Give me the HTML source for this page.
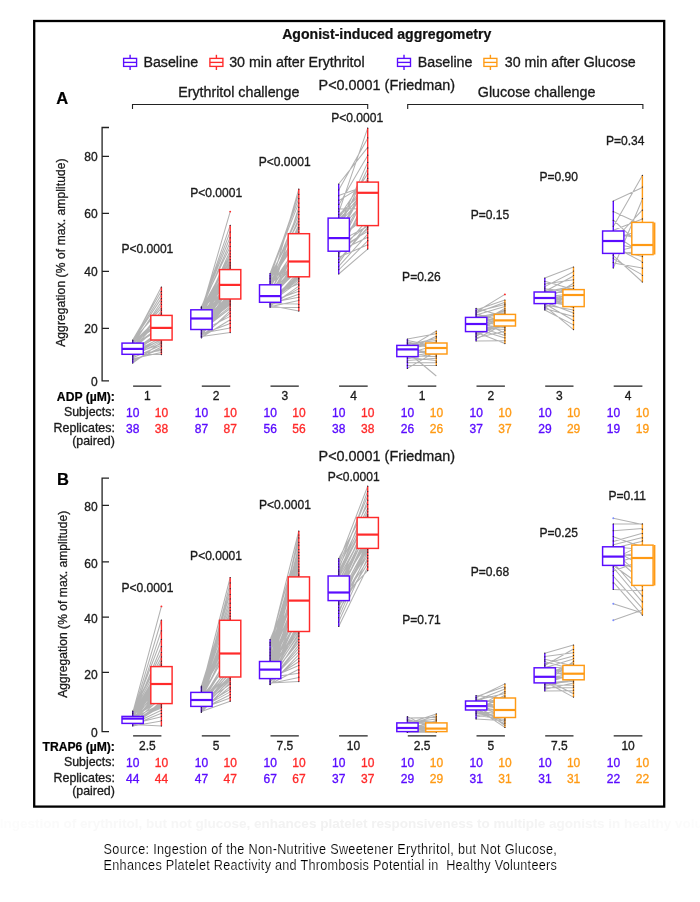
<!DOCTYPE html>
<html lang="en"><head><meta charset="utf-8"><title>Agonist-induced aggregometry</title>
<style>html,body{margin:0;padding:0;background:#fff}svg{display:block}text{white-space:pre}</style></head>
<body>
<svg width="700" height="902" viewBox="0 0 700 902" font-family="Liberation Sans, Arial, Helvetica, sans-serif">
<rect width="700" height="902" fill="#fff"/>
<rect x="34.2" y="21" width="630" height="785.6" fill="none" stroke="#000" stroke-width="2.3"/>
<text x="282.2" y="38.8" font-size="14.1" text-anchor="start" font-weight="bold" fill="#111" stroke="#111" stroke-width="0.22" >Agonist-induced aggregometry</text>
<path d="M130.1 54.8V70" stroke="#5a0cff" stroke-width="1.4"/>
<rect x="123.6" y="58.4" width="13" height="8" fill="#fff" stroke="#5a0cff" stroke-width="1.35"/>
<path d="M123.6 62.4H136.6" stroke="#5a0cff" stroke-width="1.35"/>
<text x="143.4" y="67.0" font-size="14.25" text-anchor="start" font-weight="normal" fill="#1a1a1a" stroke="#1a1a1a" stroke-width="0.32" >Baseline</text>
<path d="M216.4 54.8V70" stroke="#ff2a2a" stroke-width="1.4"/>
<rect x="209.9" y="58.4" width="13" height="8" fill="#fff" stroke="#ff2a2a" stroke-width="1.35"/>
<path d="M209.9 62.4H222.9" stroke="#ff2a2a" stroke-width="1.35"/>
<text x="229.2" y="67.0" font-size="14.25" text-anchor="start" font-weight="normal" fill="#1a1a1a" stroke="#1a1a1a" stroke-width="0.32" >30 min after Erythritol</text>
<path d="M404.0 54.8V70" stroke="#5a0cff" stroke-width="1.4"/>
<rect x="397.5" y="58.4" width="13" height="8" fill="#fff" stroke="#5a0cff" stroke-width="1.35"/>
<path d="M397.5 62.4H410.5" stroke="#5a0cff" stroke-width="1.35"/>
<text x="417.8" y="67.0" font-size="14.25" text-anchor="start" font-weight="normal" fill="#1a1a1a" stroke="#1a1a1a" stroke-width="0.32" >Baseline</text>
<path d="M490.4 54.8V70" stroke="#ff9a14" stroke-width="1.4"/>
<rect x="483.9" y="58.4" width="13" height="8" fill="#fff" stroke="#ff9a14" stroke-width="1.35"/>
<path d="M483.9 62.4H496.9" stroke="#ff9a14" stroke-width="1.35"/>
<text x="504.8" y="67.0" font-size="14.2" text-anchor="start" font-weight="normal" fill="#1a1a1a" stroke="#1a1a1a" stroke-width="0.32" >30 min after Glucose</text>
<text x="178.2" y="97.0" font-size="14.25" text-anchor="start" font-weight="normal" fill="#1a1a1a" stroke="#1a1a1a" stroke-width="0.32" >Erythritol challenge</text>
<text x="477.8" y="97.0" font-size="14.3" text-anchor="start" font-weight="normal" fill="#1a1a1a" stroke="#1a1a1a" stroke-width="0.32" >Glucose challenge</text>
<text x="318.6" y="90.2" font-size="14.4" text-anchor="start" font-weight="normal" fill="#1a1a1a" stroke="#1a1a1a" stroke-width="0.32" >P&lt;0.0001 (Friedman)</text>
<text x="318.6" y="460.7" font-size="14.4" text-anchor="start" font-weight="normal" fill="#1a1a1a" stroke="#1a1a1a" stroke-width="0.32" >P&lt;0.0001 (Friedman)</text>
<path d="M132.5 109V104.5H367.7V109M407.7 109V104.5H642.9V109" fill="none" stroke="#222" stroke-width="1.1"/>
<text x="56.3" y="104.0" font-size="16.5" text-anchor="start" font-weight="bold" fill="#000" stroke="#000" stroke-width="0.22" >A</text>
<text x="57.0" y="485.3" font-size="16.5" text-anchor="start" font-weight="bold" fill="#000" stroke="#000" stroke-width="0.22" >B</text>
<path d="M109 127.5H102.1V380.8H109M102.1 328.3H109M102.1 271.4H109M102.1 213.4H109M102.1 156.3H109" fill="none" stroke="#222" stroke-width="1.3"/>
<text x="97.6" y="386.4" font-size="12" text-anchor="end" font-weight="normal" fill="#1a1a1a" stroke="#1a1a1a" stroke-width="0.32" >0</text>
<text x="97.6" y="332.6" font-size="12" text-anchor="end" font-weight="normal" fill="#1a1a1a" stroke="#1a1a1a" stroke-width="0.32" >20</text>
<text x="97.6" y="275.7" font-size="12" text-anchor="end" font-weight="normal" fill="#1a1a1a" stroke="#1a1a1a" stroke-width="0.32" >40</text>
<text x="97.6" y="217.7" font-size="12" text-anchor="end" font-weight="normal" fill="#1a1a1a" stroke="#1a1a1a" stroke-width="0.32" >60</text>
<text x="97.6" y="160.6" font-size="12" text-anchor="end" font-weight="normal" fill="#1a1a1a" stroke="#1a1a1a" stroke-width="0.32" >80</text>
<path d="M109 478.1H102.1V731.6H109M102.1 672.4H109M102.1 617.1H109M102.1 561.9H109M102.1 505.3H109" fill="none" stroke="#222" stroke-width="1.3"/>
<text x="97.6" y="737.1" font-size="12" text-anchor="end" font-weight="normal" fill="#1a1a1a" stroke="#1a1a1a" stroke-width="0.32" >0</text>
<text x="97.6" y="679.1" font-size="12" text-anchor="end" font-weight="normal" fill="#1a1a1a" stroke="#1a1a1a" stroke-width="0.32" >20</text>
<text x="97.6" y="622.9" font-size="12" text-anchor="end" font-weight="normal" fill="#1a1a1a" stroke="#1a1a1a" stroke-width="0.32" >40</text>
<text x="97.6" y="567.7" font-size="12" text-anchor="end" font-weight="normal" fill="#1a1a1a" stroke="#1a1a1a" stroke-width="0.32" >60</text>
<text x="97.6" y="511.1" font-size="12" text-anchor="end" font-weight="normal" fill="#1a1a1a" stroke="#1a1a1a" stroke-width="0.32" >80</text>
<text transform="translate(64.6 346.8) rotate(-90)" font-size="12" fill="#1a1a1a" stroke="#1a1a1a" stroke-width="0.3" textLength="188.4" lengthAdjust="spacing">Aggregation (% of max. amplitude)</text>
<text transform="translate(67.2 697.8) rotate(-90)" font-size="12" fill="#1a1a1a" stroke="#1a1a1a" stroke-width="0.3" textLength="187" lengthAdjust="spacing">Aggregation (% of max. amplitude)</text>
<path d="M407.4 352L436.3 376" stroke="#b2b2b2" stroke-width="1.05"/>
<g stroke="#b2b2b2" stroke-width="1.05" fill="none" stroke-linecap="round"><path d="M132.7 340.0L161.4 291.0M132.7 340.5L161.4 308.1M132.7 341.1L161.4 294.8M132.7 341.5L161.4 298.4M132.7 341.9L161.4 287.1M132.7 342.3L161.4 305.1M132.7 342.6L161.4 321.8M132.7 342.8L161.4 315.1M132.7 343.0L161.4 323.2M132.7 343.1L161.4 316.4M132.7 343.6L161.4 320.5M132.7 344.2L161.4 319.1M132.7 344.8L161.4 301.8M132.7 345.5L161.4 328.6M132.7 346.1L161.4 325.9M132.7 346.7L161.4 327.2M132.7 347.3L161.4 310.9M132.7 348.0L161.4 313.3M132.7 348.6L161.4 317.8M132.7 349.2L161.4 324.5M132.7 349.8L161.4 333.8M132.7 350.4L161.4 331.2M132.7 350.9L161.4 335.1M132.7 351.5L161.4 329.9M132.7 352.1L161.4 337.7M132.7 352.7L161.4 340.1M132.7 353.3L161.4 332.5M132.7 353.9L161.4 354.6M132.7 354.3L161.4 343.7M132.7 354.6L161.4 350.6M132.7 355.1L161.4 336.4M132.7 355.8L161.4 339.0M132.7 356.6L161.4 341.1M132.7 357.7L161.4 345.3M132.7 358.8L161.4 352.6M132.7 360.1L161.4 348.8M132.7 361.5L161.4 347.0M132.7 363.1L161.4 342.3"/></g>
<path d="M132.7 340.0V363.1" stroke="#5a0cff" stroke-width="1.4"/>
<path d="M161.4 287.1V354.6" stroke="#ff2a2a" stroke-width="1.4"/>
<g fill="#2a2030"><circle cx="132.7" cy="340.0" r="0.62"/><circle cx="161.4" cy="291.4" r="0.62"/><circle cx="132.7" cy="340.8" r="0.62"/><circle cx="161.4" cy="308.8" r="0.62"/><circle cx="161.4" cy="294.3" r="0.62"/><circle cx="132.7" cy="342.2" r="0.62"/><circle cx="161.4" cy="298.7" r="0.62"/><circle cx="161.4" cy="287.1" r="0.62"/><circle cx="161.4" cy="304.5" r="0.62"/><circle cx="161.4" cy="314.6" r="0.62"/><circle cx="132.7" cy="343.6" r="0.62"/><circle cx="161.4" cy="301.6" r="0.62"/><circle cx="161.4" cy="310.3" r="0.62"/><circle cx="161.4" cy="313.2" r="0.62"/><circle cx="161.4" cy="340.8" r="0.62"/><circle cx="132.7" cy="353.8" r="0.62"/><circle cx="161.4" cy="354.6" r="0.62"/><circle cx="161.4" cy="343.6" r="0.62"/><circle cx="132.7" cy="355.2" r="0.62"/><circle cx="161.4" cy="350.9" r="0.62"/><circle cx="132.7" cy="356.7" r="0.62"/><circle cx="132.7" cy="358.1" r="0.62"/><circle cx="161.4" cy="345.1" r="0.62"/><circle cx="161.4" cy="352.3" r="0.62"/><circle cx="132.7" cy="359.6" r="0.62"/><circle cx="161.4" cy="349.4" r="0.62"/><circle cx="132.7" cy="361.1" r="0.62"/><circle cx="161.4" cy="346.6" r="0.62"/><circle cx="132.7" cy="363.1" r="0.62"/><circle cx="161.4" cy="342.2" r="0.62"/></g>
<rect x="122.0" y="343.1" width="21.3" height="11.2" fill="#fff" stroke="#5a0cff" stroke-width="1.45"/>
<path d="M122.0 348.9H143.3" stroke="#5a0cff" stroke-width="2.2"/>
<rect x="150.8" y="315.4" width="21.3" height="24.6" fill="#fff" stroke="#ff2a2a" stroke-width="1.45"/>
<path d="M150.8 327.9H172.1" stroke="#ff2a2a" stroke-width="2.2"/>
<g stroke="#b2b2b2" stroke-width="1.05" fill="none" stroke-linecap="round"><path d="M201.4 306.8L230.2 246.7M201.4 307.0L230.2 270.7M201.4 307.3L230.2 237.2M201.4 307.5L230.2 267.3M201.4 307.7L230.2 269.0M201.4 307.9L230.2 231.6M201.4 308.1L230.2 266.4M201.4 308.3L230.2 277.1M201.4 308.4L230.2 225.3M201.4 308.6L230.2 261.8M201.4 308.8L230.2 268.6M201.4 308.9L230.2 257.0M201.4 309.1L230.2 270.0M201.4 309.2L230.2 269.5M201.4 309.3L230.2 242.2M201.4 309.4L230.2 277.8M201.4 309.5L230.2 275.6M201.4 309.6L230.2 279.2M201.4 309.7L230.2 281.3M201.4 309.7L230.2 274.2M201.4 309.8L230.2 272.8M201.4 309.8L230.2 259.6M201.4 310.0L230.2 278.5M201.4 310.4L230.2 269.6M201.4 310.8L230.2 269.6M201.4 311.2L230.2 265.1M201.4 311.6L230.2 269.3M201.4 312.0L230.2 269.6M201.4 312.4L230.2 285.6M201.4 312.8L230.2 254.1M201.4 313.2L230.2 268.1M201.4 313.6L230.2 279.9M201.4 314.0L230.2 289.5M201.4 314.5L230.2 282.8M201.4 314.9L230.2 263.6M201.4 315.3L230.2 250.6M201.4 315.7L230.2 282.1M201.4 316.1L230.2 274.9M201.4 316.5L230.2 271.4M201.4 316.9L230.2 288.8M201.4 317.3L230.2 292.8M201.4 317.7L230.2 284.2M201.4 318.1L230.2 284.9M201.4 318.5L230.2 286.2M201.4 319.0L230.2 299.0M201.4 319.5L230.2 290.1M201.4 320.0L230.2 288.2M201.4 320.5L230.2 290.8M201.4 321.1L230.2 273.5M201.4 321.6L230.2 299.1M201.4 322.1L230.2 296.7M201.4 322.6L230.2 294.1M201.4 323.1L230.2 272.1M201.4 323.6L230.2 283.5M201.4 324.1L230.2 299.0M201.4 324.6L230.2 276.4M201.4 325.2L230.2 287.5M201.4 325.7L230.2 300.2M201.4 326.2L230.2 280.6M201.4 326.7L230.2 304.9M201.4 327.2L230.2 299.0M201.4 327.7L230.2 293.4M201.4 328.2L230.2 298.7M201.4 328.7L230.2 301.5M201.4 329.2L230.2 297.4M201.4 329.5L230.2 303.5M201.4 329.6L230.2 291.5M201.4 329.7L230.2 294.7M201.4 329.9L230.2 306.6M201.4 330.1L230.2 299.2M201.4 330.3L230.2 292.1M201.4 330.6L230.2 308.5M201.4 330.9L230.2 316.4M201.4 331.2L230.2 298.0M201.4 331.6L230.2 286.9M201.4 332.0L230.2 300.7M201.4 332.4L230.2 302.4M201.4 332.8L230.2 299.7M201.4 333.3L230.2 327.9M201.4 333.7L230.2 296.0M201.4 334.3L230.2 323.6M201.4 334.8L230.2 295.4M201.4 335.3L230.2 299.4M201.4 335.9L230.2 313.4M201.4 336.5L230.2 332.6M201.4 337.2L230.2 319.8M201.4 337.8L230.2 310.8M201.4 311.0L230.2 211.6"/></g>
<path d="M201.4 306.8V337.8" stroke="#5a0cff" stroke-width="1.4"/>
<path d="M230.2 225.3V332.6" stroke="#ff2a2a" stroke-width="1.4"/>
<g fill="#2a2030"><circle cx="201.4" cy="306.8" r="0.62"/><circle cx="230.2" cy="246.5" r="0.62"/><circle cx="201.4" cy="307.4" r="0.62"/><circle cx="230.2" cy="237.8" r="0.62"/><circle cx="230.2" cy="266.8" r="0.62"/><circle cx="230.2" cy="269.7" r="0.62"/><circle cx="230.2" cy="232.0" r="0.62"/><circle cx="201.4" cy="308.8" r="0.62"/><circle cx="230.2" cy="225.3" r="0.62"/><circle cx="230.2" cy="262.4" r="0.62"/><circle cx="230.2" cy="268.2" r="0.62"/><circle cx="230.2" cy="256.6" r="0.62"/><circle cx="230.2" cy="242.2" r="0.62"/><circle cx="201.4" cy="310.3" r="0.62"/><circle cx="230.2" cy="259.6" r="0.62"/><circle cx="230.2" cy="265.3" r="0.62"/><circle cx="230.2" cy="253.8" r="0.62"/><circle cx="230.2" cy="263.9" r="0.62"/><circle cx="230.2" cy="250.8" r="0.62"/><circle cx="230.2" cy="298.7" r="0.62"/><circle cx="230.2" cy="300.1" r="0.62"/><circle cx="230.2" cy="304.5" r="0.62"/><circle cx="230.2" cy="301.6" r="0.62"/><circle cx="201.4" cy="329.1" r="0.62"/><circle cx="230.2" cy="303.1" r="0.62"/><circle cx="201.4" cy="330.6" r="0.62"/><circle cx="230.2" cy="305.9" r="0.62"/><circle cx="230.2" cy="308.8" r="0.62"/><circle cx="230.2" cy="316.1" r="0.62"/><circle cx="201.4" cy="332.1" r="0.62"/><circle cx="201.4" cy="333.5" r="0.62"/><circle cx="230.2" cy="327.7" r="0.62"/><circle cx="201.4" cy="334.9" r="0.62"/><circle cx="230.2" cy="323.3" r="0.62"/><circle cx="201.4" cy="336.4" r="0.62"/><circle cx="230.2" cy="313.2" r="0.62"/><circle cx="230.2" cy="332.6" r="0.62"/><circle cx="201.4" cy="337.8" r="0.62"/><circle cx="230.2" cy="320.4" r="0.62"/><circle cx="230.2" cy="310.3" r="0.62"/></g>
<circle cx="230.2" cy="211.6" r="0.95" fill="#ff2a2a"/>
<rect x="190.8" y="309.8" width="21.3" height="19.7" fill="#fff" stroke="#5a0cff" stroke-width="1.45"/>
<path d="M190.8 318.5H212.1" stroke="#5a0cff" stroke-width="2.2"/>
<rect x="219.5" y="269.6" width="21.3" height="29.4" fill="#fff" stroke="#ff2a2a" stroke-width="1.45"/>
<path d="M219.5 284.9H240.8" stroke="#ff2a2a" stroke-width="2.2"/>
<g stroke="#b2b2b2" stroke-width="1.05" fill="none" stroke-linecap="round"><path d="M270.1 273.5L298.8 198.5M270.1 274.9L298.8 202.9M270.1 276.1L298.8 221.6M270.1 277.4L298.8 193.9M270.1 278.5L298.8 214.8M270.1 279.6L298.8 229.7M270.1 280.5L298.8 211.1M270.1 281.4L298.8 238.2M270.1 282.2L298.8 236.2M270.1 282.9L298.8 264.3M270.1 283.6L298.8 234.2M270.1 284.1L298.8 218.4M270.1 284.5L298.8 227.3M270.1 284.7L298.8 233.1M270.1 285.0L298.8 250.4M270.1 285.8L298.8 231.7M270.1 286.6L298.8 244.3M270.1 287.5L298.8 272.1M270.1 288.3L298.8 189.1M270.1 289.1L298.8 224.6M270.1 289.9L298.8 248.4M270.1 290.8L298.8 260.5M270.1 291.6L298.8 256.4M270.1 292.4L298.8 240.3M270.1 293.2L298.8 267.6M270.1 294.0L298.8 262.1M270.1 294.9L298.8 246.3M270.1 295.7L298.8 283.8M270.1 296.3L298.8 269.8M270.1 296.8L298.8 252.4M270.1 297.2L298.8 265.4M270.1 297.7L298.8 263.2M270.1 298.1L298.8 268.7M270.1 298.6L298.8 207.1M270.1 299.0L298.8 266.5M270.1 299.5L298.8 277.2M270.1 299.9L298.8 258.5M270.1 300.4L298.8 274.3M270.1 300.8L298.8 278.4M270.1 301.3L298.8 279.9M270.1 301.7L298.8 291.3M270.1 302.2L298.8 254.4M270.1 302.3L298.8 275.4M270.1 302.5L298.8 276.5M270.1 302.6L298.8 281.7M270.1 302.8L298.8 297.3M270.1 303.1L298.8 242.3M270.1 303.4L298.8 303.9M270.1 303.8L298.8 271.0M270.1 304.2L298.8 294.2M270.1 304.6L298.8 273.2M270.1 305.1L298.8 288.6M270.1 305.6L298.8 311.1M270.1 306.1L298.8 286.1M270.1 306.7L298.8 300.5M270.1 307.3L298.8 307.4"/></g>
<path d="M270.1 273.5V307.3" stroke="#5a0cff" stroke-width="1.4"/>
<path d="M298.8 189.1V311.1" stroke="#ff2a2a" stroke-width="1.4"/>
<g fill="#2a2030"><circle cx="270.1" cy="273.5" r="0.62"/><circle cx="298.8" cy="198.7" r="0.62"/><circle cx="270.1" cy="275.5" r="0.62"/><circle cx="298.8" cy="203.0" r="0.62"/><circle cx="298.8" cy="221.8" r="0.62"/><circle cx="270.1" cy="276.9" r="0.62"/><circle cx="298.8" cy="194.3" r="0.62"/><circle cx="270.1" cy="278.4" r="0.62"/><circle cx="298.8" cy="214.6" r="0.62"/><circle cx="270.1" cy="279.8" r="0.62"/><circle cx="298.8" cy="229.1" r="0.62"/><circle cx="298.8" cy="211.7" r="0.62"/><circle cx="270.1" cy="281.3" r="0.62"/><circle cx="270.1" cy="282.8" r="0.62"/><circle cx="270.1" cy="284.2" r="0.62"/><circle cx="298.8" cy="218.9" r="0.62"/><circle cx="298.8" cy="227.7" r="0.62"/><circle cx="298.8" cy="233.4" r="0.62"/><circle cx="270.1" cy="285.6" r="0.62"/><circle cx="298.8" cy="232.0" r="0.62"/><circle cx="298.8" cy="189.1" r="0.62"/><circle cx="298.8" cy="224.8" r="0.62"/><circle cx="298.8" cy="284.2" r="0.62"/><circle cx="298.8" cy="207.3" r="0.62"/><circle cx="298.8" cy="276.9" r="0.62"/><circle cx="298.8" cy="278.4" r="0.62"/><circle cx="298.8" cy="279.8" r="0.62"/><circle cx="298.8" cy="291.4" r="0.62"/><circle cx="270.1" cy="301.6" r="0.62"/><circle cx="270.1" cy="303.1" r="0.62"/><circle cx="298.8" cy="281.3" r="0.62"/><circle cx="298.8" cy="297.2" r="0.62"/><circle cx="298.8" cy="304.5" r="0.62"/><circle cx="270.1" cy="304.5" r="0.62"/><circle cx="298.8" cy="294.3" r="0.62"/><circle cx="298.8" cy="288.6" r="0.62"/><circle cx="270.1" cy="305.9" r="0.62"/><circle cx="298.8" cy="311.1" r="0.62"/><circle cx="298.8" cy="285.6" r="0.62"/><circle cx="270.1" cy="307.3" r="0.62"/><circle cx="298.8" cy="300.1" r="0.62"/><circle cx="298.8" cy="307.4" r="0.62"/></g>
<rect x="259.5" y="284.8" width="21.3" height="17.5" fill="#fff" stroke="#5a0cff" stroke-width="1.45"/>
<path d="M259.5 296.1H280.8" stroke="#5a0cff" stroke-width="2.2"/>
<rect x="288.2" y="233.7" width="21.3" height="43.1" fill="#fff" stroke="#ff2a2a" stroke-width="1.45"/>
<path d="M288.2 261.5H309.4" stroke="#ff2a2a" stroke-width="2.2"/>
<g stroke="#b2b2b2" stroke-width="1.05" fill="none" stroke-linecap="round"><path d="M338.7 184.0L367.7 147.3M338.7 190.0L367.7 138.2M338.7 195.6L367.7 185.3M338.7 200.6L367.7 183.0M338.7 205.1L367.7 155.4M338.7 209.0L367.7 208.8M338.7 212.3L367.7 128.1M338.7 215.0L367.7 187.6M338.7 217.0L367.7 173.9M338.7 218.0L367.7 182.0M338.7 219.7L367.7 188.8M338.7 221.9L367.7 186.4M338.7 224.0L367.7 191.1M338.7 226.2L367.7 162.6M338.7 228.4L367.7 168.8M338.7 230.5L367.7 198.1M338.7 232.7L367.7 180.6M338.7 234.9L367.7 184.1M338.7 237.0L367.7 177.9M338.7 238.8L367.7 215.8M338.7 240.2L367.7 212.3M338.7 241.6L367.7 226.2M338.7 243.1L367.7 189.9M338.7 244.5L367.7 205.2M338.7 245.9L367.7 192.2M338.7 247.3L367.7 225.6M338.7 248.7L367.7 231.4M338.7 250.1L367.7 201.7M338.7 251.2L367.7 237.2M338.7 252.0L367.7 229.2M338.7 253.3L367.7 219.4M338.7 255.1L367.7 194.6M338.7 257.3L367.7 244.7M338.7 259.9L367.7 227.4M338.7 262.9L367.7 222.9M338.7 266.3L367.7 234.1M338.7 270.0L367.7 240.8M338.7 274.0L367.7 249.1"/></g>
<path d="M338.7 184.0V274.0" stroke="#5a0cff" stroke-width="1.4"/>
<path d="M367.7 128.1V249.1" stroke="#ff2a2a" stroke-width="1.4"/>
<g fill="#2a2030"><circle cx="338.7" cy="184.0" r="0.62"/><circle cx="367.7" cy="147.9" r="0.62"/><circle cx="338.7" cy="189.9" r="0.62"/><circle cx="367.7" cy="137.8" r="0.62"/><circle cx="338.7" cy="195.8" r="0.62"/><circle cx="338.7" cy="200.1" r="0.62"/><circle cx="338.7" cy="204.4" r="0.62"/><circle cx="367.7" cy="155.2" r="0.62"/><circle cx="338.7" cy="208.8" r="0.62"/><circle cx="338.7" cy="211.7" r="0.62"/><circle cx="367.7" cy="128.1" r="0.62"/><circle cx="338.7" cy="214.6" r="0.62"/><circle cx="338.7" cy="217.5" r="0.62"/><circle cx="367.7" cy="174.0" r="0.62"/><circle cx="367.7" cy="182.7" r="0.62"/><circle cx="367.7" cy="162.4" r="0.62"/><circle cx="367.7" cy="168.2" r="0.62"/><circle cx="367.7" cy="181.2" r="0.62"/><circle cx="367.7" cy="178.3" r="0.62"/><circle cx="367.7" cy="226.2" r="0.62"/><circle cx="367.7" cy="232.0" r="0.62"/><circle cx="338.7" cy="250.8" r="0.62"/><circle cx="367.7" cy="237.8" r="0.62"/><circle cx="338.7" cy="252.3" r="0.62"/><circle cx="367.7" cy="229.1" r="0.62"/><circle cx="338.7" cy="253.8" r="0.62"/><circle cx="338.7" cy="255.2" r="0.62"/><circle cx="338.7" cy="256.6" r="0.62"/><circle cx="367.7" cy="245.0" r="0.62"/><circle cx="338.7" cy="259.6" r="0.62"/><circle cx="367.7" cy="227.7" r="0.62"/><circle cx="338.7" cy="262.4" r="0.62"/><circle cx="338.7" cy="266.8" r="0.62"/><circle cx="367.7" cy="233.4" r="0.62"/><circle cx="338.7" cy="269.7" r="0.62"/><circle cx="367.7" cy="240.7" r="0.62"/><circle cx="338.7" cy="274.0" r="0.62"/><circle cx="367.7" cy="249.1" r="0.62"/></g>
<rect x="328.1" y="218.1" width="21.3" height="33.1" fill="#fff" stroke="#5a0cff" stroke-width="1.45"/>
<path d="M328.1 238.1H349.3" stroke="#5a0cff" stroke-width="2.2"/>
<rect x="357.1" y="182.1" width="21.3" height="43.5" fill="#fff" stroke="#ff2a2a" stroke-width="1.45"/>
<path d="M357.1 192.8H378.3" stroke="#ff2a2a" stroke-width="2.2"/>
<g stroke="#b2b2b2" stroke-width="1.05" fill="none" stroke-linecap="round"><path d="M407.4 339.0L436.3 333.8M407.4 340.6L436.3 346.0M407.4 342.1L436.3 347.6M407.4 343.3L436.3 348.5M407.4 344.3L436.3 340.4M407.4 345.0L436.3 338.5M407.4 345.4L436.3 346.8M407.4 345.9L436.3 342.9M407.4 346.5L436.3 344.4M407.4 347.2L436.3 355.0M407.4 347.8L436.3 341.9M407.4 348.4L436.3 331.0M407.4 349.1L436.3 343.6M407.4 350.0L436.3 336.3M407.4 351.1L436.3 354.1M407.4 352.3L436.3 350.4M407.4 353.4L436.3 345.2M407.4 354.6L436.3 349.4M407.4 355.7L436.3 356.5M407.4 356.6L436.3 352.3M407.4 357.4L436.3 360.4M407.4 358.7L436.3 353.3M407.4 360.5L436.3 358.3M407.4 362.7L436.3 362.8M407.4 365.4L436.3 365.4M407.4 368.4L436.3 351.4"/></g>
<path d="M407.4 339.0V368.4" stroke="#5a0cff" stroke-width="1.4"/>
<path d="M436.3 331.0V365.4" stroke="#ff9a14" stroke-width="1.4"/>
<g fill="#2a2030"><circle cx="407.4" cy="339.0" r="0.62"/><circle cx="436.3" cy="333.5" r="0.62"/><circle cx="407.4" cy="340.8" r="0.62"/><circle cx="407.4" cy="342.2" r="0.62"/><circle cx="407.4" cy="343.6" r="0.62"/><circle cx="436.3" cy="340.8" r="0.62"/><circle cx="407.4" cy="345.1" r="0.62"/><circle cx="436.3" cy="337.8" r="0.62"/><circle cx="407.4" cy="346.6" r="0.62"/><circle cx="436.3" cy="342.2" r="0.62"/><circle cx="436.3" cy="355.2" r="0.62"/><circle cx="436.3" cy="331.0" r="0.62"/><circle cx="436.3" cy="336.4" r="0.62"/><circle cx="436.3" cy="353.8" r="0.62"/><circle cx="436.3" cy="356.7" r="0.62"/><circle cx="407.4" cy="356.7" r="0.62"/><circle cx="436.3" cy="361.1" r="0.62"/><circle cx="407.4" cy="358.1" r="0.62"/><circle cx="407.4" cy="361.1" r="0.62"/><circle cx="436.3" cy="358.1" r="0.62"/><circle cx="407.4" cy="362.5" r="0.62"/><circle cx="436.3" cy="362.5" r="0.62"/><circle cx="407.4" cy="365.4" r="0.62"/><circle cx="436.3" cy="365.4" r="0.62"/><circle cx="407.4" cy="368.4" r="0.62"/></g>
<rect x="396.8" y="345.4" width="21.3" height="11.2" fill="#fff" stroke="#5a0cff" stroke-width="1.45"/>
<path d="M396.8 349.4H418.0" stroke="#5a0cff" stroke-width="2.2"/>
<rect x="425.7" y="343.0" width="21.3" height="11.0" fill="#fff" stroke="#ff9a14" stroke-width="1.45"/>
<path d="M425.7 348.0H446.9" stroke="#ff9a14" stroke-width="2.2"/>
<g stroke="#b2b2b2" stroke-width="1.05" fill="none" stroke-linecap="round"><path d="M476.1 308.4L504.9 316.4M476.1 310.0L504.9 300.0M476.1 311.5L504.9 304.5M476.1 312.9L504.9 302.3M476.1 314.1L504.9 321.0M476.1 315.1L504.9 306.6M476.1 316.0L504.9 313.9M476.1 316.7L504.9 312.9M476.1 317.2L504.9 315.1M476.1 317.4L504.9 311.6M476.1 318.1L504.9 319.7M476.1 318.9L504.9 333.3M476.1 319.6L504.9 319.1M476.1 320.3L504.9 322.3M476.1 321.1L504.9 326.0M476.1 321.8L504.9 318.4M476.1 322.5L504.9 310.1M476.1 323.3L504.9 315.7M476.1 324.0L504.9 327.8M476.1 324.8L504.9 308.4M476.1 325.7L504.9 317.7M476.1 326.5L504.9 335.6M476.1 327.4L504.9 329.4M476.1 328.2L504.9 325.4M476.1 329.1L504.9 338.1M476.1 329.9L504.9 326.7M476.1 330.8L504.9 317.1M476.1 331.6L504.9 314.4M476.1 331.8L504.9 322.9M476.1 332.3L504.9 343.6M476.1 333.1L504.9 324.8M476.1 334.0L504.9 321.6M476.1 335.1L504.9 324.1M476.1 336.3L504.9 320.4M476.1 337.7L504.9 331.2M476.1 339.3L504.9 323.5M476.1 341.0L504.9 340.7M476.1 312.0L504.9 294.4"/></g>
<path d="M476.1 308.4V341.0" stroke="#5a0cff" stroke-width="1.4"/>
<path d="M504.9 300.0V343.6" stroke="#ff9a14" stroke-width="1.4"/>
<g fill="#2a2030"><circle cx="476.1" cy="308.4" r="0.62"/><circle cx="476.1" cy="310.3" r="0.62"/><circle cx="504.9" cy="300.0" r="0.62"/><circle cx="476.1" cy="311.8" r="0.62"/><circle cx="504.9" cy="304.5" r="0.62"/><circle cx="476.1" cy="313.2" r="0.62"/><circle cx="504.9" cy="303.1" r="0.62"/><circle cx="476.1" cy="314.6" r="0.62"/><circle cx="504.9" cy="305.9" r="0.62"/><circle cx="476.1" cy="316.1" r="0.62"/><circle cx="504.9" cy="313.2" r="0.62"/><circle cx="476.1" cy="317.6" r="0.62"/><circle cx="504.9" cy="311.8" r="0.62"/><circle cx="504.9" cy="333.5" r="0.62"/><circle cx="504.9" cy="326.2" r="0.62"/><circle cx="504.9" cy="310.3" r="0.62"/><circle cx="504.9" cy="327.7" r="0.62"/><circle cx="504.9" cy="308.8" r="0.62"/><circle cx="504.9" cy="334.9" r="0.62"/><circle cx="504.9" cy="329.1" r="0.62"/><circle cx="504.9" cy="337.8" r="0.62"/><circle cx="476.1" cy="332.1" r="0.62"/><circle cx="504.9" cy="314.6" r="0.62"/><circle cx="504.9" cy="343.6" r="0.62"/><circle cx="476.1" cy="333.5" r="0.62"/><circle cx="476.1" cy="334.9" r="0.62"/><circle cx="476.1" cy="336.4" r="0.62"/><circle cx="476.1" cy="337.8" r="0.62"/><circle cx="504.9" cy="330.6" r="0.62"/><circle cx="476.1" cy="339.3" r="0.62"/><circle cx="476.1" cy="341.0" r="0.62"/><circle cx="504.9" cy="340.8" r="0.62"/></g>
<circle cx="504.9" cy="294.4" r="0.95" fill="#ff2a2a"/>
<rect x="465.5" y="317.4" width="21.3" height="14.2" fill="#fff" stroke="#5a0cff" stroke-width="1.45"/>
<path d="M465.5 324.0H486.8" stroke="#5a0cff" stroke-width="2.2"/>
<rect x="494.2" y="314.4" width="21.3" height="11.6" fill="#fff" stroke="#ff9a14" stroke-width="1.45"/>
<path d="M494.2 320.4H515.5" stroke="#ff9a14" stroke-width="2.2"/>
<g stroke="#b2b2b2" stroke-width="1.05" fill="none" stroke-linecap="round"><path d="M544.8 278.0L573.5 267.0M544.8 281.2L573.5 289.6M544.8 284.1L573.5 279.8M544.8 286.6L573.5 271.7M544.8 288.7L573.5 292.7M544.8 290.3L573.5 288.4M544.8 291.5L573.5 276.0M544.8 292.0L573.5 286.1M544.8 292.9L573.5 291.9M544.8 293.7L573.5 290.4M544.8 294.6L573.5 298.3M544.8 295.4L573.5 300.0M544.8 296.3L573.5 301.6M544.8 297.1L573.5 293.5M544.8 298.0L573.5 307.8M544.8 298.8L573.5 304.9M544.8 299.6L573.5 303.3M544.8 300.4L573.5 283.3M544.8 301.2L573.5 306.6M544.8 302.0L573.5 313.1M544.8 302.8L573.5 296.7M544.8 303.6L573.5 294.2M544.8 303.8L573.5 320.5M544.8 304.4L573.5 291.1M544.8 305.1L573.5 310.1M544.8 306.1L573.5 329.6M544.8 307.2L573.5 295.0M544.8 308.5L573.5 316.5M544.8 310.0L573.5 324.9"/></g>
<path d="M544.8 278.0V310.0" stroke="#5a0cff" stroke-width="1.4"/>
<path d="M573.5 267.0V329.6" stroke="#ff9a14" stroke-width="1.4"/>
<g fill="#2a2030"><circle cx="544.8" cy="278.0" r="0.62"/><circle cx="573.5" cy="267.0" r="0.62"/><circle cx="544.8" cy="281.3" r="0.62"/><circle cx="573.5" cy="290.0" r="0.62"/><circle cx="544.8" cy="284.2" r="0.62"/><circle cx="573.5" cy="279.8" r="0.62"/><circle cx="544.8" cy="287.1" r="0.62"/><circle cx="573.5" cy="271.1" r="0.62"/><circle cx="544.8" cy="288.6" r="0.62"/><circle cx="544.8" cy="290.0" r="0.62"/><circle cx="573.5" cy="288.6" r="0.62"/><circle cx="544.8" cy="291.4" r="0.62"/><circle cx="573.5" cy="275.5" r="0.62"/><circle cx="573.5" cy="285.6" r="0.62"/><circle cx="573.5" cy="307.4" r="0.62"/><circle cx="573.5" cy="282.8" r="0.62"/><circle cx="573.5" cy="305.9" r="0.62"/><circle cx="573.5" cy="313.2" r="0.62"/><circle cx="544.8" cy="303.1" r="0.62"/><circle cx="544.8" cy="304.5" r="0.62"/><circle cx="573.5" cy="320.4" r="0.62"/><circle cx="573.5" cy="310.3" r="0.62"/><circle cx="544.8" cy="305.9" r="0.62"/><circle cx="573.5" cy="329.6" r="0.62"/><circle cx="544.8" cy="307.4" r="0.62"/><circle cx="544.8" cy="308.8" r="0.62"/><circle cx="573.5" cy="316.1" r="0.62"/><circle cx="544.8" cy="310.0" r="0.62"/><circle cx="573.5" cy="324.8" r="0.62"/></g>
<rect x="534.1" y="292.0" width="21.3" height="11.6" fill="#fff" stroke="#5a0cff" stroke-width="1.45"/>
<path d="M534.1 298.0H555.4" stroke="#5a0cff" stroke-width="2.2"/>
<rect x="562.9" y="289.6" width="21.3" height="17.0" fill="#fff" stroke="#ff9a14" stroke-width="1.45"/>
<path d="M562.9 295.0H584.1" stroke="#ff9a14" stroke-width="2.2"/>
<g stroke="#b2b2b2" stroke-width="1.05" fill="none" stroke-linecap="round"><path d="M613.3 201.0L642.4 187.6M613.3 211.4L642.4 224.9M613.3 220.0L642.4 247.1M613.3 226.4L642.4 175.4M613.3 230.3L642.4 219.0M613.3 232.1L642.4 240.0M613.3 234.3L642.4 253.5M613.3 236.6L642.4 235.0M613.3 238.8L642.4 229.9M613.3 241.0L642.4 209.8M613.3 243.8L642.4 249.3M613.3 246.5L642.4 261.9M613.3 249.3L642.4 256.6M613.3 252.0L642.4 245.0M613.3 253.7L642.4 251.4M613.3 255.7L642.4 282.0M613.3 258.8L642.4 274.9M613.3 262.9L642.4 268.1M613.3 268.0L642.4 199.2"/></g>
<path d="M613.3 201.0V268.0" stroke="#5a0cff" stroke-width="1.4"/>
<path d="M642.4 175.4V282.0" stroke="#ff9a14" stroke-width="1.4"/>
<g fill="#2a2030"><circle cx="613.3" cy="201.0" r="0.62"/><circle cx="642.4" cy="187.0" r="0.62"/><circle cx="613.3" cy="211.7" r="0.62"/><circle cx="613.3" cy="220.4" r="0.62"/><circle cx="613.3" cy="226.2" r="0.62"/><circle cx="642.4" cy="175.4" r="0.62"/><circle cx="613.3" cy="230.5" r="0.62"/><circle cx="642.4" cy="218.9" r="0.62"/><circle cx="642.4" cy="210.2" r="0.62"/><circle cx="642.4" cy="262.4" r="0.62"/><circle cx="642.4" cy="256.6" r="0.62"/><circle cx="613.3" cy="253.8" r="0.62"/><circle cx="613.3" cy="255.2" r="0.62"/><circle cx="642.4" cy="282.0" r="0.62"/><circle cx="613.3" cy="258.1" r="0.62"/><circle cx="642.4" cy="275.5" r="0.62"/><circle cx="613.3" cy="262.4" r="0.62"/><circle cx="642.4" cy="268.2" r="0.62"/><circle cx="613.3" cy="268.0" r="0.62"/><circle cx="642.4" cy="198.7" r="0.62"/></g>
<rect x="602.6" y="231.0" width="21.3" height="22.4" fill="#fff" stroke="#5a0cff" stroke-width="1.45"/>
<path d="M602.6 241.0H623.9" stroke="#5a0cff" stroke-width="2.2"/>
<rect x="631.8" y="222.4" width="21.3" height="32.2" fill="#fff" stroke="#ff9a14" stroke-width="1.45"/>
<path d="M631.8 245.0H653.0" stroke="#ff9a14" stroke-width="2.2"/>
<g stroke="#b2b2b2" stroke-width="1.05" fill="none" stroke-linecap="round"><path d="M132.7 711.0L161.4 657.4M132.7 711.8L161.4 652.7M132.7 712.6L161.4 675.1M132.7 713.3L161.4 661.0M132.7 714.0L161.4 639.3M132.7 714.5L161.4 665.3M132.7 715.1L161.4 620.0M132.7 715.5L161.4 673.5M132.7 715.9L161.4 666.6M132.7 716.2L161.4 646.7M132.7 716.3L161.4 681.6M132.7 716.5L161.4 684.9M132.7 716.7L161.4 630.4M132.7 716.9L161.4 663.6M132.7 717.1L161.4 676.7M132.7 717.3L161.4 678.3M132.7 717.5L161.4 671.9M132.7 717.7L161.4 666.2M132.7 717.9L161.4 699.5M132.7 718.1L161.4 688.6M132.7 718.3L161.4 668.6M132.7 718.5L161.4 667.0M132.7 718.8L161.4 703.6M132.7 719.3L161.4 694.0M132.7 719.7L161.4 708.0M132.7 720.2L161.4 695.9M132.7 720.6L161.4 680.0M132.7 721.1L161.4 690.4M132.7 721.5L161.4 670.2M132.7 721.9L161.4 683.2M132.7 722.4L161.4 692.2M132.7 722.8L161.4 703.1M132.7 723.3L161.4 686.7M132.7 723.4L161.4 697.7M132.7 723.5L161.4 705.0M132.7 723.7L161.4 706.3M132.7 723.8L161.4 716.7M132.7 724.0L161.4 710.3M132.7 724.3L161.4 703.8M132.7 724.6L161.4 726.0M132.7 724.9L161.4 713.2M132.7 725.2L161.4 701.3M132.7 725.6L161.4 704.2M132.7 726.0L161.4 721.0M132.7 713.0L161.4 606.4"/></g>
<path d="M132.7 711.0V726.0" stroke="#5a0cff" stroke-width="1.4"/>
<path d="M161.4 620.0V726.0" stroke="#ff2a2a" stroke-width="1.4"/>
<g fill="#2a2030"><circle cx="132.7" cy="711.0" r="0.62"/><circle cx="161.4" cy="656.9" r="0.62"/><circle cx="132.7" cy="711.9" r="0.62"/><circle cx="161.4" cy="652.5" r="0.62"/><circle cx="132.7" cy="713.4" r="0.62"/><circle cx="161.4" cy="661.2" r="0.62"/><circle cx="161.4" cy="639.4" r="0.62"/><circle cx="132.7" cy="714.9" r="0.62"/><circle cx="161.4" cy="665.5" r="0.62"/><circle cx="161.4" cy="620.0" r="0.62"/><circle cx="132.7" cy="716.3" r="0.62"/><circle cx="161.4" cy="667.0" r="0.62"/><circle cx="161.4" cy="646.7" r="0.62"/><circle cx="161.4" cy="630.8" r="0.62"/><circle cx="161.4" cy="664.1" r="0.62"/><circle cx="161.4" cy="703.2" r="0.62"/><circle cx="161.4" cy="707.6" r="0.62"/><circle cx="132.7" cy="723.5" r="0.62"/><circle cx="161.4" cy="704.7" r="0.62"/><circle cx="161.4" cy="706.1" r="0.62"/><circle cx="161.4" cy="716.3" r="0.62"/><circle cx="161.4" cy="710.5" r="0.62"/><circle cx="132.7" cy="725.0" r="0.62"/><circle cx="161.4" cy="726.0" r="0.62"/><circle cx="161.4" cy="713.4" r="0.62"/><circle cx="132.7" cy="726.0" r="0.62"/><circle cx="161.4" cy="720.6" r="0.62"/></g>
<circle cx="161.4" cy="606.4" r="0.95" fill="#ff2a2a"/>
<rect x="122.0" y="716.4" width="21.3" height="7.0" fill="#fff" stroke="#5a0cff" stroke-width="1.45"/>
<path d="M122.0 718.6H143.3" stroke="#5a0cff" stroke-width="2.2"/>
<rect x="150.8" y="666.6" width="21.3" height="37.0" fill="#fff" stroke="#ff2a2a" stroke-width="1.45"/>
<path d="M150.8 684.0H172.1" stroke="#ff2a2a" stroke-width="2.2"/>
<g stroke="#b2b2b2" stroke-width="1.05" fill="none" stroke-linecap="round"><path d="M201.4 686.2L230.2 593.9M201.4 687.1L230.2 603.1M201.4 687.9L230.2 598.7M201.4 688.7L230.2 613.9M201.4 689.4L230.2 607.2M201.4 690.0L230.2 577.5M201.4 690.6L230.2 624.6M201.4 691.1L230.2 642.0M201.4 691.6L230.2 630.4M201.4 691.9L230.2 620.0M201.4 692.2L230.2 636.2M201.4 692.4L230.2 610.8M201.4 692.7L230.2 588.8M201.4 693.4L230.2 633.3M201.4 694.1L230.2 616.6M201.4 694.7L230.2 647.7M201.4 695.4L230.2 618.7M201.4 696.0L230.2 583.3M201.4 696.7L230.2 621.7M201.4 697.4L230.2 661.7M201.4 698.0L230.2 644.8M201.4 698.7L230.2 627.5M201.4 699.3L230.2 639.1M201.4 700.0L230.2 655.5M201.4 700.6L230.2 659.6M201.4 701.1L230.2 653.5M201.4 701.7L230.2 673.9M201.4 702.2L230.2 665.8M201.4 702.8L230.2 657.6M201.4 703.3L230.2 669.8M201.4 703.9L230.2 684.4M201.4 704.5L230.2 676.0M201.4 705.0L230.2 677.2M201.4 705.6L230.2 650.6M201.4 706.1L230.2 663.7M201.4 706.4L230.2 677.9M201.4 706.6L230.2 667.8M201.4 706.8L230.2 689.2M201.4 707.2L230.2 680.6M201.4 707.6L230.2 691.9M201.4 708.1L230.2 671.9M201.4 708.6L230.2 697.9M201.4 709.2L230.2 694.8M201.4 709.9L230.2 679.1M201.4 710.6L230.2 686.7M201.4 711.4L230.2 701.2M201.4 712.2L230.2 682.4"/></g>
<path d="M201.4 686.2V712.2" stroke="#5a0cff" stroke-width="1.4"/>
<path d="M230.2 577.5V701.2" stroke="#ff2a2a" stroke-width="1.4"/>
<g fill="#2a2030"><circle cx="201.4" cy="686.2" r="0.62"/><circle cx="230.2" cy="594.5" r="0.62"/><circle cx="201.4" cy="687.3" r="0.62"/><circle cx="230.2" cy="603.2" r="0.62"/><circle cx="230.2" cy="598.9" r="0.62"/><circle cx="201.4" cy="688.8" r="0.62"/><circle cx="230.2" cy="613.4" r="0.62"/><circle cx="230.2" cy="607.5" r="0.62"/><circle cx="201.4" cy="690.2" r="0.62"/><circle cx="230.2" cy="577.5" r="0.62"/><circle cx="201.4" cy="691.6" r="0.62"/><circle cx="230.2" cy="620.6" r="0.62"/><circle cx="230.2" cy="610.4" r="0.62"/><circle cx="201.4" cy="693.1" r="0.62"/><circle cx="230.2" cy="588.7" r="0.62"/><circle cx="230.2" cy="616.2" r="0.62"/><circle cx="230.2" cy="619.1" r="0.62"/><circle cx="230.2" cy="582.9" r="0.62"/><circle cx="230.2" cy="684.4" r="0.62"/><circle cx="230.2" cy="677.1" r="0.62"/><circle cx="201.4" cy="706.1" r="0.62"/><circle cx="230.2" cy="678.6" r="0.62"/><circle cx="230.2" cy="688.8" r="0.62"/><circle cx="201.4" cy="707.6" r="0.62"/><circle cx="230.2" cy="680.0" r="0.62"/><circle cx="230.2" cy="691.6" r="0.62"/><circle cx="201.4" cy="709.0" r="0.62"/><circle cx="230.2" cy="697.4" r="0.62"/><circle cx="230.2" cy="694.5" r="0.62"/><circle cx="201.4" cy="710.5" r="0.62"/><circle cx="230.2" cy="687.3" r="0.62"/><circle cx="201.4" cy="711.9" r="0.62"/><circle cx="230.2" cy="701.2" r="0.62"/><circle cx="201.4" cy="712.2" r="0.62"/><circle cx="230.2" cy="682.9" r="0.62"/></g>
<rect x="190.8" y="692.4" width="21.3" height="14.0" fill="#fff" stroke="#5a0cff" stroke-width="1.45"/>
<path d="M190.8 700.0H212.1" stroke="#5a0cff" stroke-width="2.2"/>
<rect x="219.5" y="620.3" width="21.3" height="56.7" fill="#fff" stroke="#ff2a2a" stroke-width="1.45"/>
<path d="M219.5 653.5H240.8" stroke="#ff2a2a" stroke-width="2.2"/>
<g stroke="#b2b2b2" stroke-width="1.05" fill="none" stroke-linecap="round"><path d="M270.1 639.6L298.8 569.5M270.1 641.8L298.8 573.6M270.1 643.9L298.8 542.2M270.1 645.9L298.8 531.0M270.1 647.8L298.8 549.2M270.1 649.6L298.8 561.7M270.1 651.3L298.8 589.1M270.1 652.9L298.8 580.5M270.1 654.4L298.8 552.5M270.1 655.8L298.8 587.7M270.1 657.0L298.8 581.9M270.1 658.1L298.8 577.6M270.1 659.1L298.8 575.3M270.1 659.9L298.8 564.4M270.1 660.6L298.8 592.0M270.1 661.1L298.8 545.8M270.1 661.4L298.8 555.7M270.1 661.7L298.8 583.4M270.1 662.2L298.8 538.6M270.1 662.7L298.8 579.1M270.1 663.2L298.8 534.8M270.1 663.7L298.8 576.6M270.1 664.2L298.8 599.2M270.1 664.7L298.8 602.5M270.1 665.2L298.8 594.9M270.1 665.7L298.8 593.4M270.1 666.2L298.8 558.8M270.1 666.7L298.8 631.9M270.1 667.1L298.8 608.1M270.1 667.6L298.8 617.5M270.1 668.1L298.8 590.5M270.1 668.6L298.8 600.6M270.1 669.1L298.8 567.0M270.1 669.6L298.8 619.3M270.1 670.1L298.8 628.7M270.1 670.7L298.8 571.7M270.1 671.2L298.8 610.0M270.1 671.8L298.8 626.8M270.1 672.3L298.8 584.8M270.1 672.9L298.8 586.2M270.1 673.4L298.8 597.7M270.1 674.0L298.8 606.2M270.1 674.5L298.8 596.3M270.1 675.1L298.8 623.1M270.1 675.6L298.8 630.6M270.1 676.1L298.8 635.1M270.1 676.7L298.8 642.3M270.1 677.2L298.8 673.3M270.1 677.8L298.8 665.5M270.1 678.3L298.8 604.3M270.1 678.6L298.8 624.9M270.1 678.7L298.8 613.7M270.1 678.8L298.8 615.6M270.1 679.0L298.8 633.2M270.1 679.3L298.8 639.6M270.1 679.5L298.8 661.7M270.1 679.8L298.8 611.8M270.1 680.2L298.8 621.2M270.1 680.5L298.8 651.3M270.1 680.9L298.8 648.1M270.1 681.4L298.8 645.1M270.1 681.8L298.8 658.1M270.1 682.3L298.8 637.2M270.1 682.9L298.8 681.6M270.1 683.4L298.8 677.4M270.1 684.0L298.8 669.3M270.1 684.6L298.8 654.6"/></g>
<path d="M270.1 639.6V684.6" stroke="#5a0cff" stroke-width="1.4"/>
<path d="M298.8 531.0V681.6" stroke="#ff2a2a" stroke-width="1.4"/>
<g fill="#2a2030"><circle cx="270.1" cy="639.6" r="0.62"/><circle cx="298.8" cy="569.9" r="0.62"/><circle cx="270.1" cy="642.4" r="0.62"/><circle cx="298.8" cy="574.2" r="0.62"/><circle cx="270.1" cy="643.8" r="0.62"/><circle cx="298.8" cy="542.3" r="0.62"/><circle cx="270.1" cy="645.2" r="0.62"/><circle cx="298.8" cy="531.0" r="0.62"/><circle cx="270.1" cy="648.1" r="0.62"/><circle cx="298.8" cy="549.5" r="0.62"/><circle cx="270.1" cy="649.6" r="0.62"/><circle cx="298.8" cy="561.1" r="0.62"/><circle cx="270.1" cy="651.0" r="0.62"/><circle cx="270.1" cy="652.5" r="0.62"/><circle cx="270.1" cy="653.9" r="0.62"/><circle cx="298.8" cy="552.4" r="0.62"/><circle cx="270.1" cy="655.4" r="0.62"/><circle cx="270.1" cy="656.9" r="0.62"/><circle cx="270.1" cy="658.3" r="0.62"/><circle cx="270.1" cy="659.8" r="0.62"/><circle cx="298.8" cy="575.6" r="0.62"/><circle cx="298.8" cy="564.0" r="0.62"/><circle cx="270.1" cy="661.2" r="0.62"/><circle cx="298.8" cy="545.2" r="0.62"/><circle cx="298.8" cy="555.4" r="0.62"/><circle cx="298.8" cy="537.9" r="0.62"/><circle cx="298.8" cy="535.0" r="0.62"/><circle cx="298.8" cy="577.1" r="0.62"/><circle cx="298.8" cy="558.2" r="0.62"/><circle cx="298.8" cy="632.2" r="0.62"/><circle cx="298.8" cy="566.9" r="0.62"/><circle cx="298.8" cy="571.3" r="0.62"/><circle cx="298.8" cy="635.1" r="0.62"/><circle cx="298.8" cy="642.4" r="0.62"/><circle cx="298.8" cy="672.8" r="0.62"/><circle cx="298.8" cy="665.5" r="0.62"/><circle cx="270.1" cy="678.6" r="0.62"/><circle cx="298.8" cy="633.6" r="0.62"/><circle cx="298.8" cy="639.4" r="0.62"/><circle cx="270.1" cy="680.0" r="0.62"/><circle cx="298.8" cy="661.2" r="0.62"/><circle cx="298.8" cy="651.0" r="0.62"/><circle cx="270.1" cy="681.5" r="0.62"/><circle cx="298.8" cy="648.1" r="0.62"/><circle cx="298.8" cy="645.2" r="0.62"/><circle cx="298.8" cy="658.3" r="0.62"/><circle cx="270.1" cy="682.9" r="0.62"/><circle cx="298.8" cy="636.5" r="0.62"/><circle cx="298.8" cy="681.6" r="0.62"/><circle cx="298.8" cy="677.1" r="0.62"/><circle cx="270.1" cy="684.4" r="0.62"/><circle cx="298.8" cy="669.9" r="0.62"/><circle cx="270.1" cy="684.6" r="0.62"/><circle cx="298.8" cy="653.9" r="0.62"/></g>
<rect x="259.5" y="661.5" width="21.3" height="17.1" fill="#fff" stroke="#5a0cff" stroke-width="1.45"/>
<path d="M259.5 669.6H280.8" stroke="#5a0cff" stroke-width="2.2"/>
<rect x="288.2" y="576.9" width="21.3" height="54.6" fill="#fff" stroke="#ff2a2a" stroke-width="1.45"/>
<path d="M288.2 600.6H309.4" stroke="#ff2a2a" stroke-width="2.2"/>
<g stroke="#b2b2b2" stroke-width="1.05" fill="none" stroke-linecap="round"><path d="M338.7 558.6L367.7 504.5M338.7 561.8L367.7 486.2M338.7 564.6L367.7 496.0M338.7 567.3L367.7 508.2M338.7 569.6L367.7 491.3M338.7 571.6L367.7 511.5M338.7 573.3L367.7 516.3M338.7 574.7L367.7 500.5M338.7 575.6L367.7 514.2M338.7 576.0L367.7 517.5M338.7 577.8L367.7 525.1M338.7 579.7L367.7 534.6M338.7 581.5L367.7 523.2M338.7 583.3L367.7 519.4M338.7 585.2L367.7 527.0M338.7 587.0L367.7 530.8M338.7 588.8L367.7 542.3M338.7 590.7L367.7 540.7M338.7 592.5L367.7 528.9M338.7 593.4L367.7 521.3M338.7 594.3L367.7 537.7M338.7 595.2L367.7 536.1M338.7 596.1L367.7 532.7M338.7 597.0L367.7 545.3M338.7 597.9L367.7 543.8M338.7 598.8L367.7 548.4M338.7 599.7L367.7 552.7M338.7 600.6L367.7 546.9M338.7 601.2L367.7 570.6M338.7 602.6L367.7 549.2M338.7 604.6L367.7 560.5M338.7 607.1L367.7 555.0M338.7 610.1L367.7 563.6M338.7 613.5L367.7 539.2M338.7 617.4L367.7 550.7M338.7 621.7L367.7 557.6M338.7 626.4L367.7 567.0"/></g>
<path d="M338.7 558.6V626.4" stroke="#5a0cff" stroke-width="1.4"/>
<path d="M367.7 486.2V570.6" stroke="#ff2a2a" stroke-width="1.4"/>
<g fill="#2a2030"><circle cx="338.7" cy="558.6" r="0.62"/><circle cx="367.7" cy="504.6" r="0.62"/><circle cx="338.7" cy="561.1" r="0.62"/><circle cx="367.7" cy="486.2" r="0.62"/><circle cx="338.7" cy="564.0" r="0.62"/><circle cx="367.7" cy="495.9" r="0.62"/><circle cx="338.7" cy="566.9" r="0.62"/><circle cx="367.7" cy="508.9" r="0.62"/><circle cx="338.7" cy="569.9" r="0.62"/><circle cx="367.7" cy="491.6" r="0.62"/><circle cx="338.7" cy="571.3" r="0.62"/><circle cx="367.7" cy="511.8" r="0.62"/><circle cx="338.7" cy="572.8" r="0.62"/><circle cx="367.7" cy="516.2" r="0.62"/><circle cx="338.7" cy="574.2" r="0.62"/><circle cx="367.7" cy="500.2" r="0.62"/><circle cx="338.7" cy="575.6" r="0.62"/><circle cx="367.7" cy="514.8" r="0.62"/><circle cx="367.7" cy="517.6" r="0.62"/><circle cx="367.7" cy="548.1" r="0.62"/><circle cx="367.7" cy="552.4" r="0.62"/><circle cx="338.7" cy="600.3" r="0.62"/><circle cx="338.7" cy="601.8" r="0.62"/><circle cx="367.7" cy="570.6" r="0.62"/><circle cx="338.7" cy="603.2" r="0.62"/><circle cx="367.7" cy="549.5" r="0.62"/><circle cx="338.7" cy="604.6" r="0.62"/><circle cx="367.7" cy="561.1" r="0.62"/><circle cx="338.7" cy="607.5" r="0.62"/><circle cx="367.7" cy="555.4" r="0.62"/><circle cx="338.7" cy="610.4" r="0.62"/><circle cx="367.7" cy="564.0" r="0.62"/><circle cx="338.7" cy="613.4" r="0.62"/><circle cx="338.7" cy="617.7" r="0.62"/><circle cx="367.7" cy="551.0" r="0.62"/><circle cx="338.7" cy="622.0" r="0.62"/><circle cx="367.7" cy="558.2" r="0.62"/><circle cx="338.7" cy="626.4" r="0.62"/><circle cx="367.7" cy="566.9" r="0.62"/></g>
<rect x="328.1" y="576.0" width="21.3" height="24.6" fill="#fff" stroke="#5a0cff" stroke-width="1.45"/>
<path d="M328.1 592.5H349.3" stroke="#5a0cff" stroke-width="2.2"/>
<rect x="357.1" y="517.5" width="21.3" height="30.9" fill="#fff" stroke="#ff2a2a" stroke-width="1.45"/>
<path d="M357.1 534.6H378.3" stroke="#ff2a2a" stroke-width="2.2"/>
<g stroke="#b2b2b2" stroke-width="1.05" fill="none" stroke-linecap="round"><path d="M407.4 716.6L436.3 730.7M407.4 718.1L436.3 717.5M407.4 719.3L436.3 727.8M407.4 720.5L436.3 722.4M407.4 721.4L436.3 724.5M407.4 722.2L436.3 721.5M407.4 722.7L436.3 719.0M407.4 722.9L436.3 723.7M407.4 723.6L436.3 713.9M407.4 724.4L436.3 729.5M407.4 725.1L436.3 715.8M407.4 725.8L436.3 726.2M407.4 726.5L436.3 731.9M407.4 727.3L436.3 722.9M407.4 728.0L436.3 727.0M407.4 728.5L436.3 731.6M407.4 729.0L436.3 728.6M407.4 729.5L436.3 720.4M407.4 730.1L436.3 729.0M407.4 730.6L436.3 731.6M407.4 731.1L436.3 731.7M407.4 731.6L436.3 725.3M407.4 731.6L436.3 732.0M407.4 731.7L436.3 732.1M407.4 731.8L436.3 731.2M407.4 731.9L436.3 731.8M407.4 732.1L436.3 730.3M407.4 732.3L436.3 732.2M407.4 732.5L436.3 729.9"/></g>
<path d="M407.4 716.6V732.5" stroke="#5a0cff" stroke-width="1.4"/>
<path d="M436.3 713.9V732.2" stroke="#ff9a14" stroke-width="1.4"/>
<g fill="#2a2030"><circle cx="407.4" cy="716.6" r="0.62"/><circle cx="407.4" cy="717.8" r="0.62"/><circle cx="436.3" cy="717.8" r="0.62"/><circle cx="407.4" cy="719.2" r="0.62"/><circle cx="407.4" cy="720.6" r="0.62"/><circle cx="436.3" cy="722.1" r="0.62"/><circle cx="407.4" cy="722.1" r="0.62"/><circle cx="436.3" cy="719.2" r="0.62"/><circle cx="407.4" cy="723.5" r="0.62"/><circle cx="436.3" cy="713.9" r="0.62"/><circle cx="436.3" cy="716.3" r="0.62"/><circle cx="436.3" cy="732.2" r="0.62"/><circle cx="436.3" cy="723.5" r="0.62"/><circle cx="436.3" cy="720.6" r="0.62"/><circle cx="407.4" cy="732.2" r="0.62"/><circle cx="436.3" cy="730.8" r="0.62"/><circle cx="407.4" cy="732.5" r="0.62"/></g>
<rect x="396.8" y="722.9" width="21.3" height="8.7" fill="#fff" stroke="#5a0cff" stroke-width="1.45"/>
<path d="M396.8 728.0H418.0" stroke="#5a0cff" stroke-width="2.2"/>
<rect x="425.7" y="722.9" width="21.3" height="8.7" fill="#fff" stroke="#ff9a14" stroke-width="1.45"/>
<path d="M425.7 728.6H446.9" stroke="#ff9a14" stroke-width="2.2"/>
<g stroke="#b2b2b2" stroke-width="1.05" fill="none" stroke-linecap="round"><path d="M476.1 695.6L504.9 698.8M476.1 696.8L504.9 686.6M476.1 697.8L504.9 683.9M476.1 698.7L504.9 705.2M476.1 699.5L504.9 713.0M476.1 700.2L504.9 693.5M476.1 700.6L504.9 689.1M476.1 700.9L504.9 710.0M476.1 701.3L504.9 700.4M476.1 702.0L504.9 706.8M476.1 702.7L504.9 718.4M476.1 703.4L504.9 715.0M476.1 704.1L504.9 697.8M476.1 704.7L504.9 725.5M476.1 705.4L504.9 708.4M476.1 706.1L504.9 716.0M476.1 706.6L504.9 703.6M476.1 707.1L504.9 711.0M476.1 707.7L504.9 691.4M476.1 708.2L504.9 727.4M476.1 708.7L504.9 722.1M476.1 709.2L504.9 702.0M476.1 709.7L504.9 696.7M476.1 710.1L504.9 695.3M476.1 710.6L504.9 723.7M476.1 711.4L504.9 714.0M476.1 712.5L504.9 717.7M476.1 713.8L504.9 717.0M476.1 715.3L504.9 719.4M476.1 717.1L504.9 712.0M476.1 719.0L504.9 720.7"/></g>
<path d="M476.1 695.6V719.0" stroke="#5a0cff" stroke-width="1.4"/>
<path d="M504.9 683.9V727.4" stroke="#ff9a14" stroke-width="1.4"/>
<g fill="#2a2030"><circle cx="476.1" cy="695.6" r="0.62"/><circle cx="476.1" cy="697.4" r="0.62"/><circle cx="504.9" cy="687.3" r="0.62"/><circle cx="504.9" cy="683.9" r="0.62"/><circle cx="476.1" cy="698.9" r="0.62"/><circle cx="476.1" cy="700.4" r="0.62"/><circle cx="504.9" cy="693.1" r="0.62"/><circle cx="504.9" cy="688.8" r="0.62"/><circle cx="476.1" cy="701.8" r="0.62"/><circle cx="504.9" cy="717.8" r="0.62"/><circle cx="504.9" cy="697.4" r="0.62"/><circle cx="504.9" cy="725.0" r="0.62"/><circle cx="504.9" cy="691.6" r="0.62"/><circle cx="504.9" cy="727.4" r="0.62"/><circle cx="504.9" cy="722.1" r="0.62"/><circle cx="476.1" cy="709.0" r="0.62"/><circle cx="476.1" cy="710.5" r="0.62"/><circle cx="504.9" cy="696.0" r="0.62"/><circle cx="504.9" cy="723.5" r="0.62"/><circle cx="476.1" cy="711.9" r="0.62"/><circle cx="476.1" cy="713.4" r="0.62"/><circle cx="504.9" cy="716.3" r="0.62"/><circle cx="476.1" cy="714.9" r="0.62"/><circle cx="504.9" cy="719.2" r="0.62"/><circle cx="476.1" cy="717.8" r="0.62"/><circle cx="476.1" cy="719.0" r="0.62"/><circle cx="504.9" cy="720.6" r="0.62"/></g>
<rect x="465.5" y="701.0" width="21.3" height="9.0" fill="#fff" stroke="#5a0cff" stroke-width="1.45"/>
<path d="M465.5 706.1H486.8" stroke="#5a0cff" stroke-width="2.2"/>
<rect x="494.2" y="698.0" width="21.3" height="19.5" fill="#fff" stroke="#ff9a14" stroke-width="1.45"/>
<path d="M494.2 710.0H515.5" stroke="#ff9a14" stroke-width="2.2"/>
<g stroke="#b2b2b2" stroke-width="1.05" fill="none" stroke-linecap="round"><path d="M544.8 653.2L573.5 645.1M544.8 656.4L573.5 652.7M544.8 659.2L573.5 666.0M544.8 661.7L573.5 669.3M544.8 663.8L573.5 656.0M544.8 665.5L573.5 649.0M544.8 666.9L573.5 668.2M544.8 667.7L573.5 658.9M544.8 668.4L573.5 678.6M544.8 669.6L573.5 673.7M544.8 670.8L573.5 670.4M544.8 672.0L573.5 667.1M544.8 673.2L573.5 665.1M544.8 674.4L573.5 663.6M544.8 675.6L573.5 671.5M544.8 676.8L573.5 675.3M544.8 677.6L573.5 677.0M544.8 678.4L573.5 677.8M544.8 679.2L573.5 693.8M544.8 680.1L573.5 672.6M544.8 680.9L573.5 676.1M544.8 681.7L573.5 697.1M544.8 682.5L573.5 661.5M544.8 683.0L573.5 674.5M544.8 683.4L573.5 680.1M544.8 684.2L573.5 681.3M544.8 685.1L573.5 685.3M544.8 686.3L573.5 679.4M544.8 687.7L573.5 687.8M544.8 689.3L573.5 683.1M544.8 691.0L573.5 690.7"/></g>
<path d="M544.8 653.2V691.0" stroke="#5a0cff" stroke-width="1.4"/>
<path d="M573.5 645.1V697.1" stroke="#ff9a14" stroke-width="1.4"/>
<g fill="#2a2030"><circle cx="544.8" cy="653.2" r="0.62"/><circle cx="573.5" cy="645.1" r="0.62"/><circle cx="544.8" cy="656.9" r="0.62"/><circle cx="573.5" cy="652.5" r="0.62"/><circle cx="544.8" cy="659.8" r="0.62"/><circle cx="544.8" cy="661.2" r="0.62"/><circle cx="544.8" cy="664.1" r="0.62"/><circle cx="573.5" cy="655.4" r="0.62"/><circle cx="544.8" cy="665.5" r="0.62"/><circle cx="573.5" cy="649.6" r="0.62"/><circle cx="544.8" cy="667.0" r="0.62"/><circle cx="573.5" cy="658.3" r="0.62"/><circle cx="573.5" cy="665.5" r="0.62"/><circle cx="573.5" cy="664.1" r="0.62"/><circle cx="573.5" cy="693.1" r="0.62"/><circle cx="573.5" cy="697.1" r="0.62"/><circle cx="544.8" cy="682.9" r="0.62"/><circle cx="573.5" cy="661.2" r="0.62"/><circle cx="573.5" cy="680.0" r="0.62"/><circle cx="544.8" cy="684.4" r="0.62"/><circle cx="573.5" cy="681.5" r="0.62"/><circle cx="573.5" cy="685.9" r="0.62"/><circle cx="544.8" cy="685.9" r="0.62"/><circle cx="544.8" cy="687.3" r="0.62"/><circle cx="573.5" cy="687.3" r="0.62"/><circle cx="544.8" cy="688.8" r="0.62"/><circle cx="573.5" cy="682.9" r="0.62"/><circle cx="544.8" cy="691.0" r="0.62"/><circle cx="573.5" cy="690.2" r="0.62"/></g>
<rect x="534.1" y="667.8" width="21.3" height="15.1" fill="#fff" stroke="#5a0cff" stroke-width="1.45"/>
<path d="M534.1 676.8H555.4" stroke="#5a0cff" stroke-width="2.2"/>
<rect x="562.9" y="665.4" width="21.3" height="14.4" fill="#fff" stroke="#ff9a14" stroke-width="1.45"/>
<path d="M562.9 673.7H584.1" stroke="#ff9a14" stroke-width="2.2"/>
<g stroke="#b2b2b2" stroke-width="1.05" fill="none" stroke-linecap="round"><path d="M613.3 523.9L642.4 523.9M613.3 530.8L642.4 528.6M613.3 536.7L642.4 546.9M613.3 541.4L642.4 533.2M613.3 544.8L642.4 537.4M613.3 546.7L642.4 549.4M613.3 548.2L642.4 541.3M613.3 550.1L642.4 565.8M613.3 551.9L642.4 576.3M613.3 553.8L642.4 556.8M613.3 555.7L642.4 581.5M613.3 557.4L642.4 551.9M613.3 559.1L642.4 544.6M613.3 560.8L642.4 571.0M613.3 562.5L642.4 596.1M613.3 564.1L642.4 554.3M613.3 565.5L642.4 586.2M613.3 567.5L642.4 602.1M613.3 571.1L642.4 560.6M613.3 576.1L642.4 608.4M613.3 582.2L642.4 615.1M613.3 589.5L642.4 590.7M613.3 518.3L642.4 524.5M613.3 603.7L642.4 613.0M613.3 620.2L642.4 610.0"/></g>
<path d="M613.3 523.9V589.5" stroke="#5a0cff" stroke-width="1.4"/>
<path d="M642.4 523.9V615.1" stroke="#ff9a14" stroke-width="1.4"/>
<g fill="#2a2030"><circle cx="613.3" cy="523.9" r="0.62"/><circle cx="642.4" cy="523.9" r="0.62"/><circle cx="613.3" cy="530.7" r="0.62"/><circle cx="642.4" cy="529.2" r="0.62"/><circle cx="613.3" cy="536.5" r="0.62"/><circle cx="613.3" cy="540.9" r="0.62"/><circle cx="642.4" cy="533.6" r="0.62"/><circle cx="613.3" cy="545.2" r="0.62"/><circle cx="642.4" cy="537.9" r="0.62"/><circle cx="613.3" cy="546.6" r="0.62"/><circle cx="642.4" cy="540.9" r="0.62"/><circle cx="642.4" cy="545.2" r="0.62"/><circle cx="642.4" cy="595.9" r="0.62"/><circle cx="613.3" cy="565.5" r="0.62"/><circle cx="642.4" cy="585.8" r="0.62"/><circle cx="613.3" cy="566.9" r="0.62"/><circle cx="642.4" cy="601.8" r="0.62"/><circle cx="613.3" cy="571.3" r="0.62"/><circle cx="613.3" cy="575.6" r="0.62"/><circle cx="642.4" cy="609.0" r="0.62"/><circle cx="613.3" cy="582.9" r="0.62"/><circle cx="642.4" cy="615.1" r="0.62"/><circle cx="613.3" cy="589.5" r="0.62"/><circle cx="642.4" cy="590.1" r="0.62"/></g>
<circle cx="613.3" cy="518.3" r="0.95" fill="#7a8cff"/>
<circle cx="613.3" cy="603.7" r="0.95" fill="#7a8cff"/>
<circle cx="613.3" cy="620.2" r="0.95" fill="#7a8cff"/>
<rect x="602.6" y="546.8" width="21.3" height="18.6" fill="#fff" stroke="#5a0cff" stroke-width="1.45"/>
<path d="M602.6 556.6H623.9" stroke="#5a0cff" stroke-width="2.2"/>
<rect x="631.8" y="545.1" width="21.3" height="40.3" fill="#fff" stroke="#ff9a14" stroke-width="1.45"/>
<path d="M631.8 558.0H653.0" stroke="#ff9a14" stroke-width="2.2"/>
<path d="M654.6 222.4V254.6M654.6 545.1V585.4" stroke="#ff9a14" stroke-width="1.6"/>
<text x="121.4" y="252.8" font-size="12.05" text-anchor="start" font-weight="normal" fill="#1a1a1a" stroke="#1a1a1a" stroke-width="0.32" >P&lt;0.0001</text>
<text x="190.2" y="197.2" font-size="12.05" text-anchor="start" font-weight="normal" fill="#1a1a1a" stroke="#1a1a1a" stroke-width="0.32" >P&lt;0.0001</text>
<text x="258.7" y="166.0" font-size="12.05" text-anchor="start" font-weight="normal" fill="#1a1a1a" stroke="#1a1a1a" stroke-width="0.32" >P&lt;0.0001</text>
<text x="331.2" y="122.1" font-size="12.05" text-anchor="start" font-weight="normal" fill="#1a1a1a" stroke="#1a1a1a" stroke-width="0.32" >P&lt;0.0001</text>
<text x="402.1" y="280.6" font-size="12.05" text-anchor="start" font-weight="normal" fill="#1a1a1a" stroke="#1a1a1a" stroke-width="0.32" >P=0.26</text>
<text x="470.7" y="218.8" font-size="12.05" text-anchor="start" font-weight="normal" fill="#1a1a1a" stroke="#1a1a1a" stroke-width="0.32" >P=0.15</text>
<text x="539.5" y="180.6" font-size="12.05" text-anchor="start" font-weight="normal" fill="#1a1a1a" stroke="#1a1a1a" stroke-width="0.32" >P=0.90</text>
<text x="605.9" y="144.6" font-size="12.05" text-anchor="start" font-weight="normal" fill="#1a1a1a" stroke="#1a1a1a" stroke-width="0.32" >P=0.34</text>
<text x="121.5" y="591.8" font-size="12.05" text-anchor="start" font-weight="normal" fill="#1a1a1a" stroke="#1a1a1a" stroke-width="0.32" >P&lt;0.0001</text>
<text x="190.1" y="559.6" font-size="12.05" text-anchor="start" font-weight="normal" fill="#1a1a1a" stroke="#1a1a1a" stroke-width="0.32" >P&lt;0.0001</text>
<text x="259.0" y="509.2" font-size="12.05" text-anchor="start" font-weight="normal" fill="#1a1a1a" stroke="#1a1a1a" stroke-width="0.32" >P&lt;0.0001</text>
<text x="327.7" y="480.6" font-size="12.05" text-anchor="start" font-weight="normal" fill="#1a1a1a" stroke="#1a1a1a" stroke-width="0.32" >P&lt;0.0001</text>
<text x="402.3" y="624.2" font-size="12.05" text-anchor="start" font-weight="normal" fill="#1a1a1a" stroke="#1a1a1a" stroke-width="0.32" >P=0.71</text>
<text x="470.7" y="576.2" font-size="12.05" text-anchor="start" font-weight="normal" fill="#1a1a1a" stroke="#1a1a1a" stroke-width="0.32" >P=0.68</text>
<text x="539.5" y="536.6" font-size="12.05" text-anchor="start" font-weight="normal" fill="#1a1a1a" stroke="#1a1a1a" stroke-width="0.32" >P=0.25</text>
<text x="608.4" y="500.2" font-size="12.05" text-anchor="start" font-weight="normal" fill="#1a1a1a" stroke="#1a1a1a" stroke-width="0.32" >P=0.11</text>
<path d="M133.1 386.2H161.4M201.8 386.2H230.2M270.5 386.2H298.8M339.1 386.2H367.7M407.8 386.2H436.3M476.5 386.2H504.9M545.2 386.2H573.5M613.7 386.2H642.4" stroke="#222" stroke-width="1.2"/>
<text x="114.9" y="400.5" font-size="12.15" text-anchor="end" font-weight="bold" fill="#000" stroke="#000" stroke-width="0.22" >ADP (µM):</text>
<text x="114.9" y="416.2" font-size="12.4" text-anchor="end" font-weight="normal" fill="#1a1a1a" stroke="#1a1a1a" stroke-width="0.32" >Subjects:</text>
<text x="114.9" y="431.6" font-size="12.4" text-anchor="end" font-weight="normal" fill="#1a1a1a" stroke="#1a1a1a" stroke-width="0.32" >Replicates:</text>
<text x="114.9" y="444.6" font-size="12.4" text-anchor="end" font-weight="normal" fill="#1a1a1a" stroke="#1a1a1a" stroke-width="0.32" >(paired)</text>
<text x="147.4" y="400.3" font-size="12" text-anchor="middle" font-weight="normal" fill="#1a1a1a" stroke="#1a1a1a" stroke-width="0.32" >1</text>
<text x="132.8" y="417.3" font-size="12" text-anchor="middle" font-weight="normal" fill="#5a0cff" stroke="#5a0cff" stroke-width="0.32" >10</text>
<text x="161.5" y="417.3" font-size="12" text-anchor="middle" font-weight="normal" fill="#ff2a2a" stroke="#ff2a2a" stroke-width="0.32" >10</text>
<text x="132.8" y="432.8" font-size="12" text-anchor="middle" font-weight="normal" fill="#5a0cff" stroke="#5a0cff" stroke-width="0.32" >38</text>
<text x="161.5" y="432.8" font-size="12" text-anchor="middle" font-weight="normal" fill="#ff2a2a" stroke="#ff2a2a" stroke-width="0.32" >38</text>
<text x="216.1" y="400.3" font-size="12" text-anchor="middle" font-weight="normal" fill="#1a1a1a" stroke="#1a1a1a" stroke-width="0.32" >2</text>
<text x="201.5" y="417.3" font-size="12" text-anchor="middle" font-weight="normal" fill="#5a0cff" stroke="#5a0cff" stroke-width="0.32" >10</text>
<text x="230.3" y="417.3" font-size="12" text-anchor="middle" font-weight="normal" fill="#ff2a2a" stroke="#ff2a2a" stroke-width="0.32" >10</text>
<text x="201.5" y="432.8" font-size="12" text-anchor="middle" font-weight="normal" fill="#5a0cff" stroke="#5a0cff" stroke-width="0.32" >87</text>
<text x="230.3" y="432.8" font-size="12" text-anchor="middle" font-weight="normal" fill="#ff2a2a" stroke="#ff2a2a" stroke-width="0.32" >87</text>
<text x="284.8" y="400.3" font-size="12" text-anchor="middle" font-weight="normal" fill="#1a1a1a" stroke="#1a1a1a" stroke-width="0.32" >3</text>
<text x="270.2" y="417.3" font-size="12" text-anchor="middle" font-weight="normal" fill="#5a0cff" stroke="#5a0cff" stroke-width="0.32" >10</text>
<text x="298.9" y="417.3" font-size="12" text-anchor="middle" font-weight="normal" fill="#ff2a2a" stroke="#ff2a2a" stroke-width="0.32" >10</text>
<text x="270.2" y="432.8" font-size="12" text-anchor="middle" font-weight="normal" fill="#5a0cff" stroke="#5a0cff" stroke-width="0.32" >56</text>
<text x="298.9" y="432.8" font-size="12" text-anchor="middle" font-weight="normal" fill="#ff2a2a" stroke="#ff2a2a" stroke-width="0.32" >56</text>
<text x="353.5" y="400.3" font-size="12" text-anchor="middle" font-weight="normal" fill="#1a1a1a" stroke="#1a1a1a" stroke-width="0.32" >4</text>
<text x="338.8" y="417.3" font-size="12" text-anchor="middle" font-weight="normal" fill="#5a0cff" stroke="#5a0cff" stroke-width="0.32" >10</text>
<text x="367.8" y="417.3" font-size="12" text-anchor="middle" font-weight="normal" fill="#ff2a2a" stroke="#ff2a2a" stroke-width="0.32" >10</text>
<text x="338.8" y="432.8" font-size="12" text-anchor="middle" font-weight="normal" fill="#5a0cff" stroke="#5a0cff" stroke-width="0.32" >38</text>
<text x="367.8" y="432.8" font-size="12" text-anchor="middle" font-weight="normal" fill="#ff2a2a" stroke="#ff2a2a" stroke-width="0.32" >38</text>
<text x="422.2" y="400.3" font-size="12" text-anchor="middle" font-weight="normal" fill="#1a1a1a" stroke="#1a1a1a" stroke-width="0.32" >1</text>
<text x="407.5" y="417.3" font-size="12" text-anchor="middle" font-weight="normal" fill="#5a0cff" stroke="#5a0cff" stroke-width="0.32" >10</text>
<text x="436.4" y="417.3" font-size="12" text-anchor="middle" font-weight="normal" fill="#ff9a14" stroke="#ff9a14" stroke-width="0.32" >10</text>
<text x="407.5" y="432.8" font-size="12" text-anchor="middle" font-weight="normal" fill="#5a0cff" stroke="#5a0cff" stroke-width="0.32" >26</text>
<text x="436.4" y="432.8" font-size="12" text-anchor="middle" font-weight="normal" fill="#ff9a14" stroke="#ff9a14" stroke-width="0.32" >26</text>
<text x="490.8" y="400.3" font-size="12" text-anchor="middle" font-weight="normal" fill="#1a1a1a" stroke="#1a1a1a" stroke-width="0.32" >2</text>
<text x="476.2" y="417.3" font-size="12" text-anchor="middle" font-weight="normal" fill="#5a0cff" stroke="#5a0cff" stroke-width="0.32" >10</text>
<text x="505.0" y="417.3" font-size="12" text-anchor="middle" font-weight="normal" fill="#ff9a14" stroke="#ff9a14" stroke-width="0.32" >10</text>
<text x="476.2" y="432.8" font-size="12" text-anchor="middle" font-weight="normal" fill="#5a0cff" stroke="#5a0cff" stroke-width="0.32" >37</text>
<text x="505.0" y="432.8" font-size="12" text-anchor="middle" font-weight="normal" fill="#ff9a14" stroke="#ff9a14" stroke-width="0.32" >37</text>
<text x="559.4" y="400.3" font-size="12" text-anchor="middle" font-weight="normal" fill="#1a1a1a" stroke="#1a1a1a" stroke-width="0.32" >3</text>
<text x="544.9" y="417.3" font-size="12" text-anchor="middle" font-weight="normal" fill="#5a0cff" stroke="#5a0cff" stroke-width="0.32" >10</text>
<text x="573.6" y="417.3" font-size="12" text-anchor="middle" font-weight="normal" fill="#ff9a14" stroke="#ff9a14" stroke-width="0.32" >10</text>
<text x="544.9" y="432.8" font-size="12" text-anchor="middle" font-weight="normal" fill="#5a0cff" stroke="#5a0cff" stroke-width="0.32" >29</text>
<text x="573.6" y="432.8" font-size="12" text-anchor="middle" font-weight="normal" fill="#ff9a14" stroke="#ff9a14" stroke-width="0.32" >29</text>
<text x="628.1" y="400.3" font-size="12" text-anchor="middle" font-weight="normal" fill="#1a1a1a" stroke="#1a1a1a" stroke-width="0.32" >4</text>
<text x="613.4" y="417.3" font-size="12" text-anchor="middle" font-weight="normal" fill="#5a0cff" stroke="#5a0cff" stroke-width="0.32" >10</text>
<text x="642.5" y="417.3" font-size="12" text-anchor="middle" font-weight="normal" fill="#ff9a14" stroke="#ff9a14" stroke-width="0.32" >10</text>
<text x="613.4" y="432.8" font-size="12" text-anchor="middle" font-weight="normal" fill="#5a0cff" stroke="#5a0cff" stroke-width="0.32" >19</text>
<text x="642.5" y="432.8" font-size="12" text-anchor="middle" font-weight="normal" fill="#ff9a14" stroke="#ff9a14" stroke-width="0.32" >19</text>
<path d="M133.1 735.8H161.4M201.8 735.8H230.2M270.5 735.8H298.8M339.1 735.8H367.7M407.8 735.8H436.3M476.5 735.8H504.9M545.2 735.8H573.5M613.7 735.8H642.4" stroke="#222" stroke-width="1.2"/>
<text x="114.9" y="750.5" font-size="12.15" text-anchor="end" font-weight="bold" fill="#000" stroke="#000" stroke-width="0.22" >TRAP6 (µM):</text>
<text x="114.9" y="766.2" font-size="12.4" text-anchor="end" font-weight="normal" fill="#1a1a1a" stroke="#1a1a1a" stroke-width="0.32" >Subjects:</text>
<text x="114.9" y="781.6" font-size="12.4" text-anchor="end" font-weight="normal" fill="#1a1a1a" stroke="#1a1a1a" stroke-width="0.32" >Replicates:</text>
<text x="114.9" y="794.6" font-size="12.4" text-anchor="end" font-weight="normal" fill="#1a1a1a" stroke="#1a1a1a" stroke-width="0.32" >(paired)</text>
<text x="147.4" y="750.3" font-size="12" text-anchor="middle" font-weight="normal" fill="#1a1a1a" stroke="#1a1a1a" stroke-width="0.32" >2.5</text>
<text x="132.8" y="767.3" font-size="12" text-anchor="middle" font-weight="normal" fill="#5a0cff" stroke="#5a0cff" stroke-width="0.32" >10</text>
<text x="161.5" y="767.3" font-size="12" text-anchor="middle" font-weight="normal" fill="#ff2a2a" stroke="#ff2a2a" stroke-width="0.32" >10</text>
<text x="132.8" y="782.8" font-size="12" text-anchor="middle" font-weight="normal" fill="#5a0cff" stroke="#5a0cff" stroke-width="0.32" >44</text>
<text x="161.5" y="782.8" font-size="12" text-anchor="middle" font-weight="normal" fill="#ff2a2a" stroke="#ff2a2a" stroke-width="0.32" >44</text>
<text x="216.1" y="750.3" font-size="12" text-anchor="middle" font-weight="normal" fill="#1a1a1a" stroke="#1a1a1a" stroke-width="0.32" >5</text>
<text x="201.5" y="767.3" font-size="12" text-anchor="middle" font-weight="normal" fill="#5a0cff" stroke="#5a0cff" stroke-width="0.32" >10</text>
<text x="230.3" y="767.3" font-size="12" text-anchor="middle" font-weight="normal" fill="#ff2a2a" stroke="#ff2a2a" stroke-width="0.32" >10</text>
<text x="201.5" y="782.8" font-size="12" text-anchor="middle" font-weight="normal" fill="#5a0cff" stroke="#5a0cff" stroke-width="0.32" >47</text>
<text x="230.3" y="782.8" font-size="12" text-anchor="middle" font-weight="normal" fill="#ff2a2a" stroke="#ff2a2a" stroke-width="0.32" >47</text>
<text x="284.8" y="750.3" font-size="12" text-anchor="middle" font-weight="normal" fill="#1a1a1a" stroke="#1a1a1a" stroke-width="0.32" >7.5</text>
<text x="270.2" y="767.3" font-size="12" text-anchor="middle" font-weight="normal" fill="#5a0cff" stroke="#5a0cff" stroke-width="0.32" >10</text>
<text x="298.9" y="767.3" font-size="12" text-anchor="middle" font-weight="normal" fill="#ff2a2a" stroke="#ff2a2a" stroke-width="0.32" >10</text>
<text x="270.2" y="782.8" font-size="12" text-anchor="middle" font-weight="normal" fill="#5a0cff" stroke="#5a0cff" stroke-width="0.32" >67</text>
<text x="298.9" y="782.8" font-size="12" text-anchor="middle" font-weight="normal" fill="#ff2a2a" stroke="#ff2a2a" stroke-width="0.32" >67</text>
<text x="353.5" y="750.3" font-size="12" text-anchor="middle" font-weight="normal" fill="#1a1a1a" stroke="#1a1a1a" stroke-width="0.32" >10</text>
<text x="338.8" y="767.3" font-size="12" text-anchor="middle" font-weight="normal" fill="#5a0cff" stroke="#5a0cff" stroke-width="0.32" >10</text>
<text x="367.8" y="767.3" font-size="12" text-anchor="middle" font-weight="normal" fill="#ff2a2a" stroke="#ff2a2a" stroke-width="0.32" >10</text>
<text x="338.8" y="782.8" font-size="12" text-anchor="middle" font-weight="normal" fill="#5a0cff" stroke="#5a0cff" stroke-width="0.32" >37</text>
<text x="367.8" y="782.8" font-size="12" text-anchor="middle" font-weight="normal" fill="#ff2a2a" stroke="#ff2a2a" stroke-width="0.32" >37</text>
<text x="422.2" y="750.3" font-size="12" text-anchor="middle" font-weight="normal" fill="#1a1a1a" stroke="#1a1a1a" stroke-width="0.32" >2.5</text>
<text x="407.5" y="767.3" font-size="12" text-anchor="middle" font-weight="normal" fill="#5a0cff" stroke="#5a0cff" stroke-width="0.32" >10</text>
<text x="436.4" y="767.3" font-size="12" text-anchor="middle" font-weight="normal" fill="#ff9a14" stroke="#ff9a14" stroke-width="0.32" >10</text>
<text x="407.5" y="782.8" font-size="12" text-anchor="middle" font-weight="normal" fill="#5a0cff" stroke="#5a0cff" stroke-width="0.32" >29</text>
<text x="436.4" y="782.8" font-size="12" text-anchor="middle" font-weight="normal" fill="#ff9a14" stroke="#ff9a14" stroke-width="0.32" >29</text>
<text x="490.8" y="750.3" font-size="12" text-anchor="middle" font-weight="normal" fill="#1a1a1a" stroke="#1a1a1a" stroke-width="0.32" >5</text>
<text x="476.2" y="767.3" font-size="12" text-anchor="middle" font-weight="normal" fill="#5a0cff" stroke="#5a0cff" stroke-width="0.32" >10</text>
<text x="505.0" y="767.3" font-size="12" text-anchor="middle" font-weight="normal" fill="#ff9a14" stroke="#ff9a14" stroke-width="0.32" >10</text>
<text x="476.2" y="782.8" font-size="12" text-anchor="middle" font-weight="normal" fill="#5a0cff" stroke="#5a0cff" stroke-width="0.32" >31</text>
<text x="505.0" y="782.8" font-size="12" text-anchor="middle" font-weight="normal" fill="#ff9a14" stroke="#ff9a14" stroke-width="0.32" >31</text>
<text x="559.4" y="750.3" font-size="12" text-anchor="middle" font-weight="normal" fill="#1a1a1a" stroke="#1a1a1a" stroke-width="0.32" >7.5</text>
<text x="544.9" y="767.3" font-size="12" text-anchor="middle" font-weight="normal" fill="#5a0cff" stroke="#5a0cff" stroke-width="0.32" >10</text>
<text x="573.6" y="767.3" font-size="12" text-anchor="middle" font-weight="normal" fill="#ff9a14" stroke="#ff9a14" stroke-width="0.32" >10</text>
<text x="544.9" y="782.8" font-size="12" text-anchor="middle" font-weight="normal" fill="#5a0cff" stroke="#5a0cff" stroke-width="0.32" >31</text>
<text x="573.6" y="782.8" font-size="12" text-anchor="middle" font-weight="normal" fill="#ff9a14" stroke="#ff9a14" stroke-width="0.32" >31</text>
<text x="628.1" y="750.3" font-size="12" text-anchor="middle" font-weight="normal" fill="#1a1a1a" stroke="#1a1a1a" stroke-width="0.32" >10</text>
<text x="613.4" y="767.3" font-size="12" text-anchor="middle" font-weight="normal" fill="#5a0cff" stroke="#5a0cff" stroke-width="0.32" >10</text>
<text x="642.5" y="767.3" font-size="12" text-anchor="middle" font-weight="normal" fill="#ff9a14" stroke="#ff9a14" stroke-width="0.32" >10</text>
<text x="613.4" y="782.8" font-size="12" text-anchor="middle" font-weight="normal" fill="#5a0cff" stroke="#5a0cff" stroke-width="0.32" >22</text>
<text x="642.5" y="782.8" font-size="12" text-anchor="middle" font-weight="normal" fill="#ff9a14" stroke="#ff9a14" stroke-width="0.32" >22</text>
<defs><linearGradient id="fg" gradientUnits="userSpaceOnUse" x1="0" y1="0" x2="700" y2="0"><stop offset="0" stop-color="#fcfcfc"/><stop offset="0.45" stop-color="#f1f1f1"/><stop offset="0.75" stop-color="#f3f3f3"/><stop offset="1" stop-color="#fcfcfc"/></linearGradient></defs>
<text x="367.4" y="827.6" font-size="13.5" font-weight="bold" fill="url(#fg)" text-anchor="end">Ingestion of erythritol, but not glucose, enhances platelet</text>
<text x="371.2" y="827.6" font-size="13.5" font-weight="bold" fill="url(#fg)">responsiveness to multiple agonists in healthy volunteers</text>
<text transform="translate(103.6 853.8) scale(0.880 1)" font-size="14.4" fill="#000" stroke="#fff" stroke-width="0.18" paint-order="fill stroke" textLength="515.0" lengthAdjust="spacing">Source: Ingestion of the Non-Nutritive Sweetener Erythritol, but Not Glucose,</text>
<text transform="translate(103.6 869.6) scale(0.880 1)" font-size="14.4" fill="#000" stroke="#fff" stroke-width="0.18" paint-order="fill stroke" textLength="515.0" lengthAdjust="spacing">Enhances Platelet Reactivity and Thrombosis Potential in  Healthy Volunteers</text>
</svg>
</body></html>
